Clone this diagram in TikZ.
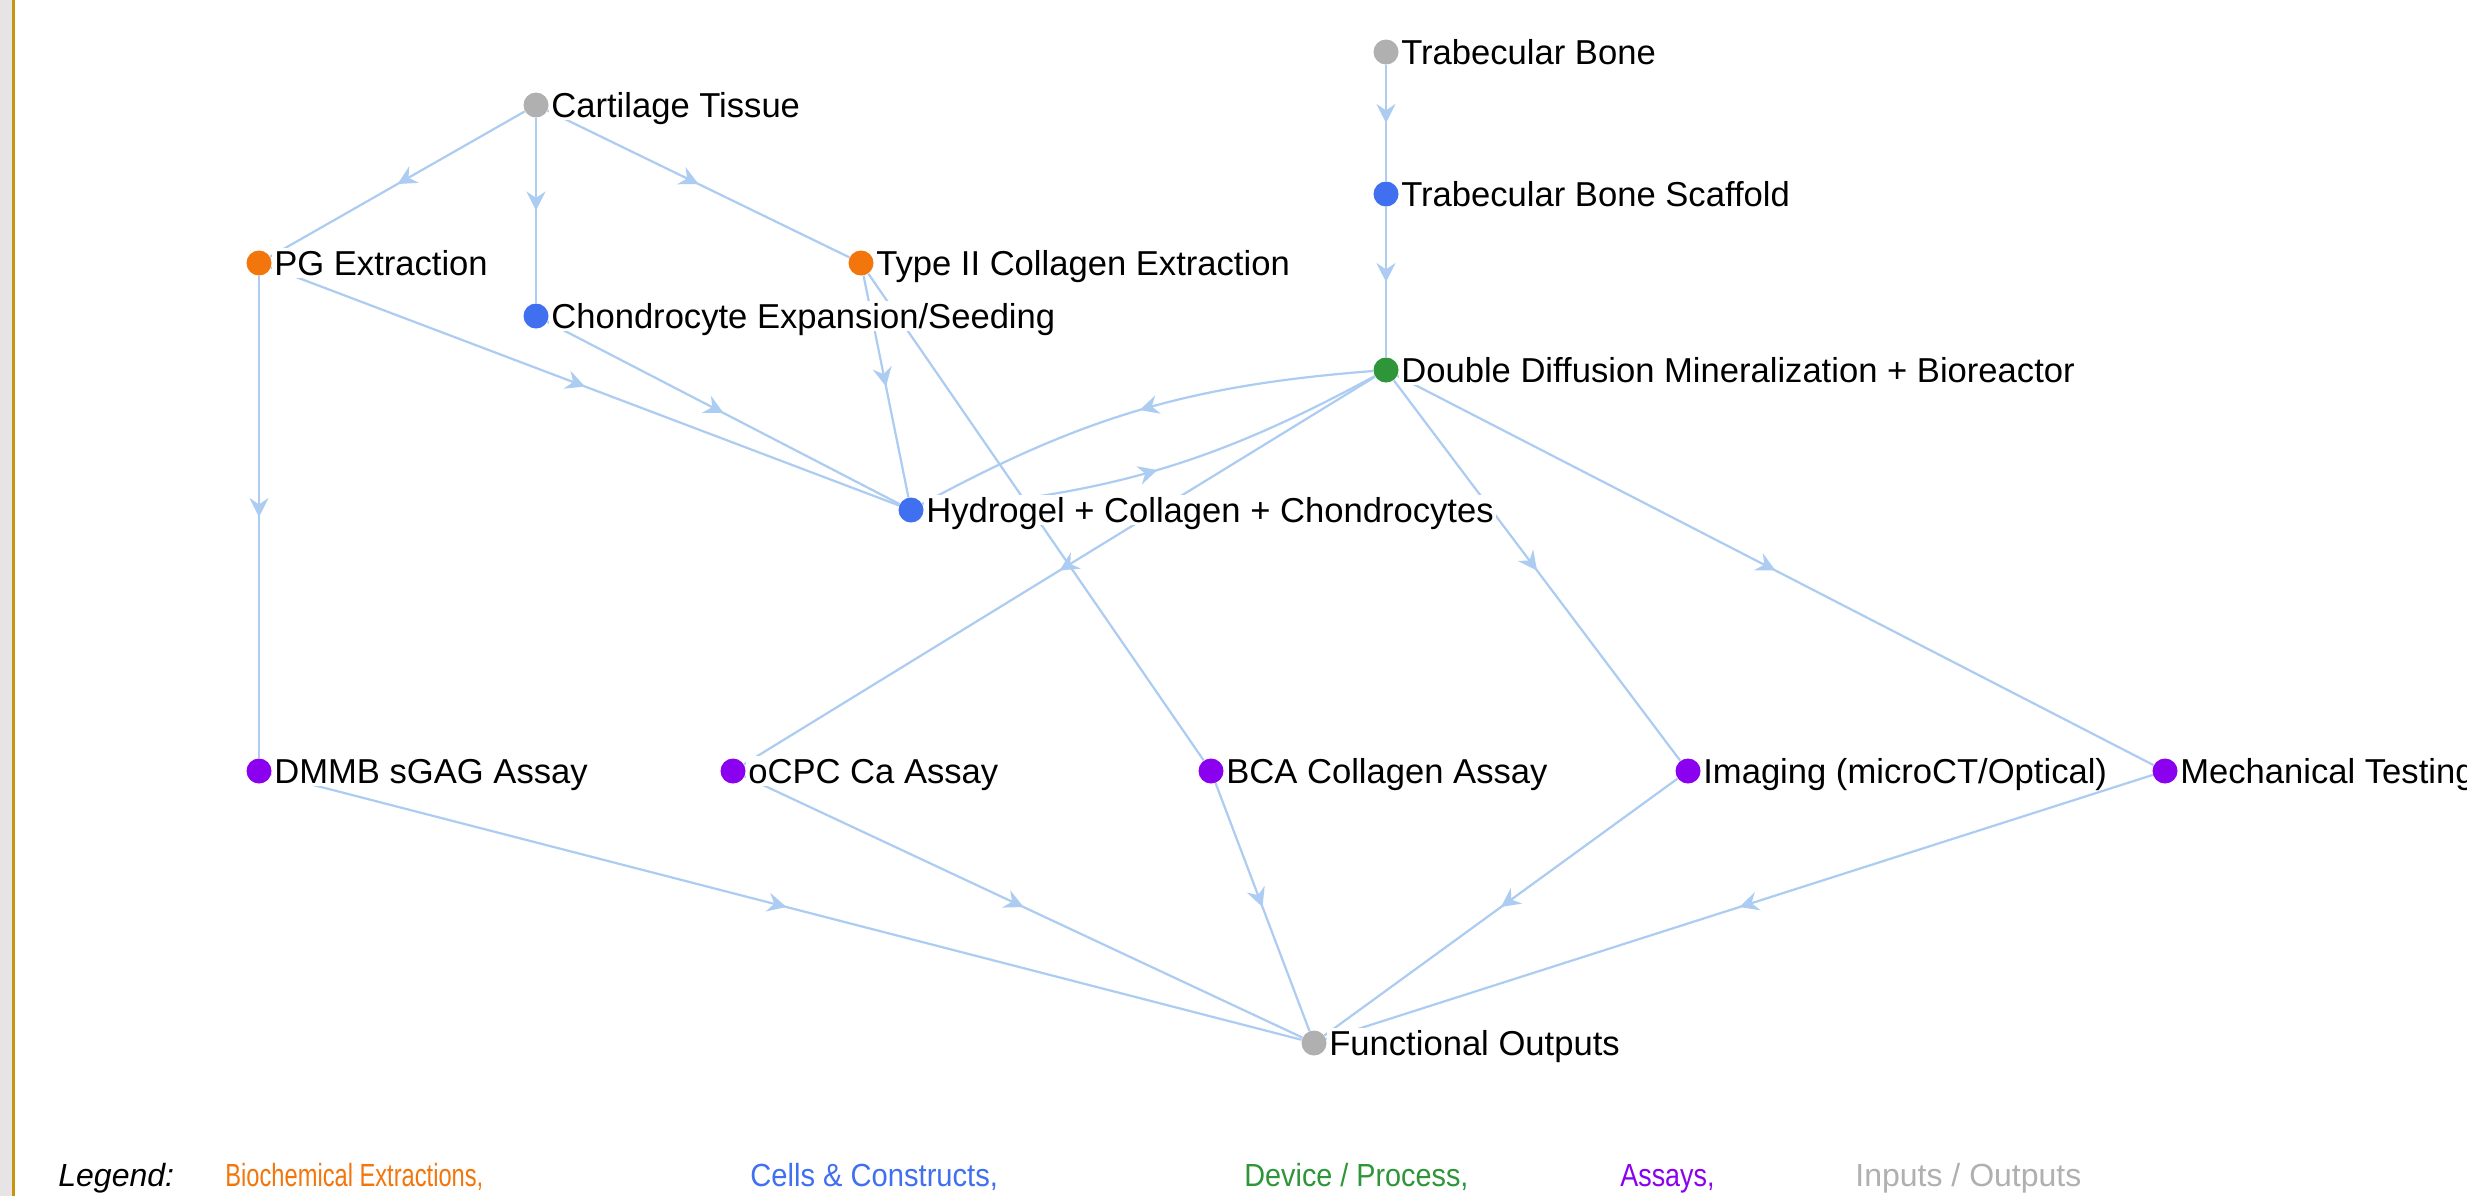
\documentclass[tikz,border=0pt]{standalone}
\usepackage{fontspec}
\setmainfont{Liberation Sans}
\usetikzlibrary{arrows.meta,decorations.markings}
\definecolor{cOr}{RGB}{242,118,12}
\definecolor{cBl}{RGB}{64,112,240}
\definecolor{cGr}{RGB}{46,150,56}
\definecolor{cPu}{RGB}{140,0,240}
\definecolor{cGy}{RGB}{176,176,176}
\definecolor{cEdge}{RGB}{172,204,242}
\definecolor{cGold}{RGB}{200,150,12}
\definecolor{cStrip}{RGB}{230,228,228}
\pgfdeclarelayer{bg}
\pgfdeclarelayer{paper}
\pgfsetlayers{paper,bg,main}
\begin{document}
\begin{tikzpicture}[x=0.5pt,y=-0.5pt,
  dot/.style={circle,inner sep=0pt,minimum size=12.5pt,draw=none},
  lab/.style={anchor=west,fill=white,inner xsep=1pt,inner ysep=1.5pt,text height=12.4pt,text depth=0pt,font=\fontsize{17.3}{20}\selectfont},
  edge/.style={draw=cEdge,line width=1.1pt,postaction={decorate},
    decoration={markings,mark=at position 0.5 with {\arrow{Stealth[length=9.5pt,width=9.5pt,inset=3.2pt]}}}},
  leg/.style={anchor=west,inner sep=0pt,text height=11.5pt,text depth=0pt,font=\fontsize{16}{19}\selectfont}]
\path[use as bounding box] (0,0) rectangle (2467,1196);
\begin{pgfonlayer}{paper}
\fill[white] (0,0) rectangle (2467,1196);
\fill[cStrip] (0,0) rectangle (12,1196);
\fill[cGold] (12,0) rectangle (15,1196);
\end{pgfonlayer}
% nodes
\node[dot,fill=cGy] (tb) at (1386,52) {};
\node[lab] (tbL) at (tb.east) {Trabecular Bone};
\node[dot,fill=cGy] (ct) at (536,105) {};
\node[lab] (ctL) at (ct.east) {Cartilage Tissue};
\node[dot,fill=cBl] (tbs) at (1386,194) {};
\node[lab] (tbsL) at (tbs.east) {Trabecular Bone Scaffold};
\node[dot,fill=cOr] (pg) at (259,263) {};
\node[lab] (pgL) at (pg.east) {PG Extraction};
\node[dot,fill=cOr] (t2) at (861,263) {};
\node[lab] (t2L) at (t2.east) {Type II Collagen Extraction};
\node[dot,fill=cBl] (ch) at (536,316) {};
\node[lab] (chL) at (ch.east) {Chondrocyte Expansion/Seeding};
\node[dot,fill=cGr] (dd) at (1386,370) {};
\node[lab] (ddL) at (dd.east) {Double Diffusion Mineralization + Bioreactor};
\node[dot,fill=cBl] (hy) at (911,510) {};
\node[lab] (hyL) at (hy.east) {Hydrogel + Collagen + Chondrocytes};
\node[dot,fill=cPu] (dm) at (259,771) {};
\node[lab] (dmL) at (dm.east) {DMMB sGAG Assay};
\node[dot,fill=cPu] (oc) at (733,771) {};
\node[lab] (ocL) at (oc.east) {oCPC Ca Assay};
\node[dot,fill=cPu] (bc) at (1211,771) {};
\node[lab] (bcL) at (bc.east) {BCA Collagen Assay};
\node[dot,fill=cPu] (im) at (1688,771) {};
\node[lab] (imL) at (im.east) {Imaging (microCT/Optical)};
\node[dot,fill=cPu] (mt) at (2165,771) {};
\node[lab] (mtL) at (mt.east) {Mechanical Testing};
\node[dot,fill=cGy] (fo) at (1314,1043) {};
\node[lab] (foL) at (fo.east) {Functional Outputs};
% edges
\begin{pgfonlayer}{bg}
\draw[edge] (ct) -- (pg);
\draw[edge] (ct) -- (ch);
\draw[edge] (ct) -- (t2);
\draw[edge] (tb) -- (tbs);
\draw[edge] (tbs) -- (dd);
\draw[edge] (pg) -- (hy);
\draw[edge] (pg) -- (dm);
\draw[edge] (ch) -- (hy);
\draw[edge] (t2) -- (hy);
\draw[edge] (t2) -- (bc);
\draw[edge] (dd) to[bend right=12] (hy);
\draw[edge] (hy) to[bend right=12] (dd);
\draw[edge] (dd) -- (oc);
\draw[edge] (dd) -- (im);
\draw[edge] (dd) -- (mt);
\draw[edge] (dm) -- (fo);
\draw[edge] (oc) -- (fo);
\draw[edge] (bc) -- (fo);
\draw[edge] (im) -- (fo);
\draw[edge] (mt) -- (fo);
\end{pgfonlayer}
% legend
\node[leg,font=\fontsize{16}{19}\selectfont\itshape] (lg0) at (58,1175) {Legend:};
\node[leg,text=cOr] (lg1) at (225,1175) {\addfontfeatures{FakeStretch=0.74}Biochemical Extractions,};
\node[leg,text=cBl] (lg2) at (750,1175) {\addfontfeatures{FakeStretch=0.91}Cells \& Constructs,};
\node[leg,text=cGr] (lg3) at (1244,1175) {\addfontfeatures{FakeStretch=0.9}Device / Process,};
\node[leg,text=cPu] (lg4) at (1620,1175) {\addfontfeatures{FakeStretch=0.84}Assays,};
\node[leg,text=cGy] (lg5) at (1855,1175) {Inputs / Outputs};
\end{tikzpicture}
\end{document}
